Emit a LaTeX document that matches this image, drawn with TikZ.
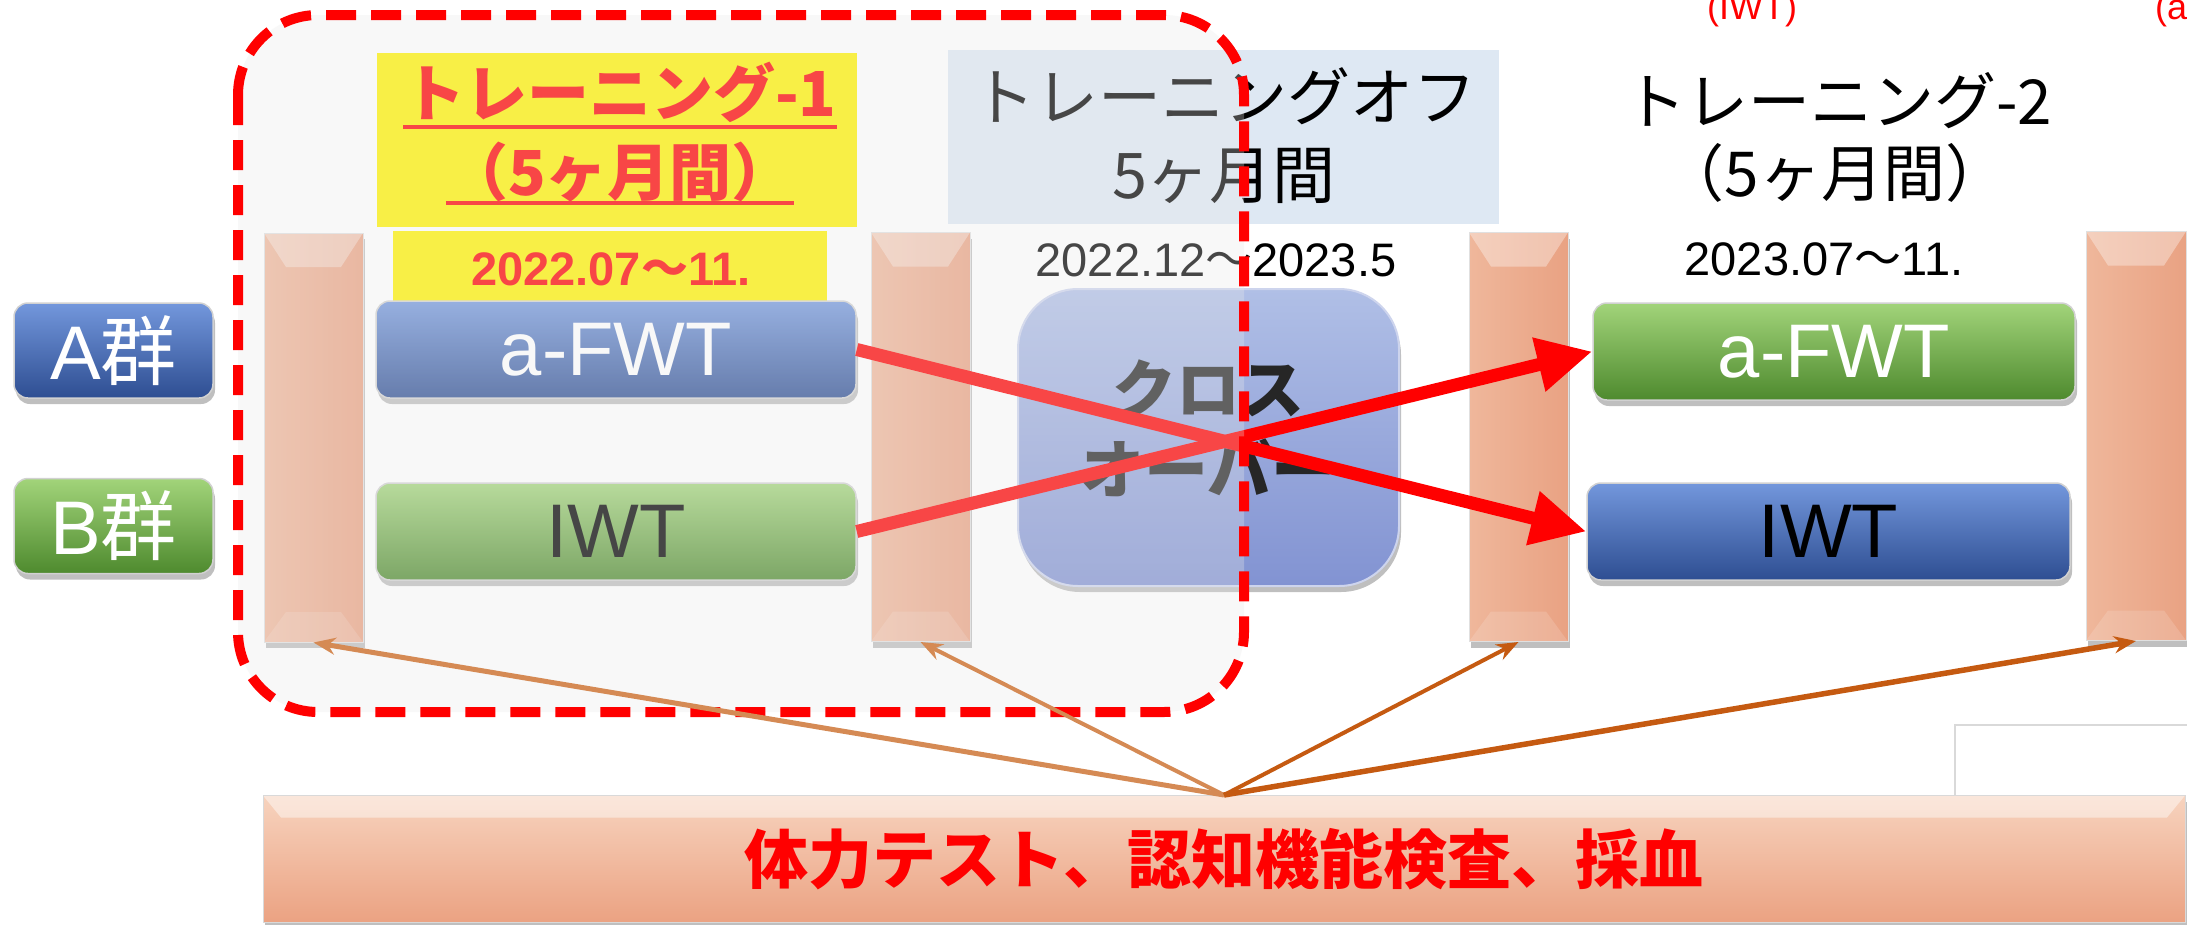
\documentclass[tikz,border=0pt]{standalone}
\usepackage{fontspec}
\setmainfont{Liberation Sans}
\newfontfamily\jp{Noto Sans CJK JP}
\usetikzlibrary{arrows.meta,shadows}
\definecolor{btnBlueT}{HTML}{7397DC}
\definecolor{btnBlueB}{HTML}{2E4E92}
\definecolor{btnGreenT}{HTML}{A2D47A}
\definecolor{btnGreenB}{HTML}{4E8A2E}
\definecolor{barL}{HTML}{EFB79B}
\definecolor{barR}{HTML}{E9A283}
\definecolor{xoverT}{HTML}{B0BFE6}
\definecolor{xoverB}{HTML}{8293D2}
\definecolor{offblue}{HTML}{DEE8F3}
\definecolor{orgD}{HTML}{C55A11}
\definecolor{orgL}{HTML}{D58A54}
\definecolor{bbT}{HTML}{F7D3BE}
\definecolor{bbB}{HTML}{EBA282}
\definecolor{overlaygray}{HTML}{EAEAEA}
\begin{document}
\begin{tikzpicture}[x=1pt,y=-1pt,
 shd/.style={drop shadow={shadow xshift=2pt,shadow yshift=-6pt,opacity=0.25,fill=black}},
 btn/.style={shd, rounded corners=14pt, draw=black!18, line width=1.5pt, inner sep=0pt,
   minimum width=480pt, minimum height=97pt, font=\fontsize{76}{80}\selectfont},
 bluebtn/.style={btn, top color=btnBlueT, bottom color=btnBlueB},
 greenbtn/.style={btn, top color=btnGreenT, bottom color=btnGreenB},
 grpbtn/.style={minimum width=199pt, minimum height=95pt},
 bevel/.style={path picture={
   \fill[white,opacity=0.35] (path picture bounding box.north west) -- (path picture bounding box.north east)
     -- ([xshift=-22pt,yshift=-34pt]path picture bounding box.north east)
     -- ([xshift=22pt,yshift=-34pt]path picture bounding box.north west) -- cycle;
   \fill[white,opacity=0.15] (path picture bounding box.south west) -- (path picture bounding box.south east)
     -- ([xshift=-22pt,yshift=30pt]path picture bounding box.south east)
     -- ([xshift=22pt,yshift=30pt]path picture bounding box.south west) -- cycle;}},
 bevelbb/.style={path picture={
   \fill[white,opacity=0.45] (path picture bounding box.north west) -- (path picture bounding box.north east)
     -- ([xshift=-18pt,yshift=-22pt]path picture bounding box.north east)
     -- ([xshift=18pt,yshift=-22pt]path picture bounding box.north west) -- cycle;}},
 barbox/.style={shd, bevel, draw=black!12, line width=1pt, left color=barL, right color=barR,
   minimum width=99pt, minimum height=409pt, inner sep=0pt},
 datetxt/.style={font=\fontsize{47}{50}\selectfont, anchor=base, inner sep=0pt},
 ttl/.style={font=\jp\fontsize{62}{70}\selectfont, inner sep=0pt},
 ttlb/.style={font=\jp\bfseries\fontsize{62}{70}\selectfont, text=red, inner sep=0pt},
 redarrow/.style={draw=red, line width=13pt, -{Triangle[length=55pt,width=52pt]}},
 orgarrow/.style={-{Stealth[length=22pt,width=17pt]}}
]
\clip (0,0) rectangle (2187,924);
\fill[white] (0,0) rectangle (2187,924);

% thin gray frame at bottom right
\draw[black!15, line width=2pt] (1955,800) -- (1955,725) -- (2190,725);

% vertical bars
\node[barbox] (b1) at (313.5,437.5) {};
\node[barbox] (b2) at (920.5,437) {};
\node[barbox] (b3) at (1518.5,437) {};
\node[barbox, minimum width=100pt] (b4) at (2136,436) {};

% title boxes
\node[fill=yellow, minimum width=480pt, minimum height=174pt, inner sep=0pt] (yel1) at (617,139.5) {};
\node[fill=yellow, minimum width=434pt, minimum height=75pt, inner sep=0pt] (yel2) at (610,268) {};
\node[fill=offblue, minimum width=551pt, minimum height=174pt, inner sep=0pt] (offbox) at (1223.5,137) {};

\node[ttlb] (t1a) at (620,92) {トレーニング-1};
\node[ttlb] (t1b) at (620,172) {（5ヶ月間）};
\draw[red, line width=4pt] (t1a.west |- 0,127) -- (t1a.east |- 0,127);
\draw[red, line width=4pt] (t1b.west |- 0,203) -- (t1b.east |- 0,203);
\node[datetxt, font=\bfseries\fontsize{47}{50}\selectfont, text=red] (d1) at (611,285) {2022.07{\jp\bfseries 〜}11.};

\node[ttl, font=\jp\fontsize{63}{70}\selectfont] (offa) at (1224,96) {トレーニングオフ};
\node[ttl, font=\jp\fontsize{63}{70}\selectfont] (offb) at (1224,176) {5ヶ月間};
\node[datetxt] (d2) at (1216,276) {2022.12{\jp 〜}2023.5};

\node[ttl] (t2a) at (1838,101) {トレーニング-2};
\node[ttl] (t2b) at (1835,173) {（5ヶ月間）};
\node[datetxt] (d3) at (1824,275) {2023.07{\jp 〜}11.};

% group buttons
\node[bluebtn, grpbtn, text=white] (ga) at (113.5,350.5) {A{\jp 群}};
\node[greenbtn, grpbtn, text=white] (gb) at (113.5,526) {B{\jp 群}};

% training buttons
\node[bluebtn, text=white] (afwt1) at (616,349.5) {a-FWT};
\node[greenbtn, text=black] (iwt1) at (616,531.5) {IWT};
\node[greenbtn, text=white, minimum width=482pt] (afwt2) at (1834,351.5) {a-FWT};
\node[bluebtn, text=black, minimum width=483pt] (iwt2) at (1828.5,531.5) {IWT};

% crossover
\node[shd, rounded corners=60pt, draw=white!60!xoverB, line width=2pt, top color=xoverT, bottom color=xoverB,
  minimum width=381pt, minimum height=297pt, inner sep=0pt] (xover) at (1208.5,437.5) {};
\node[align=center, inner sep=0pt, font=\jp\bfseries\fontsize{64}{80}\selectfont, text=black!85]
  (xtxt) at (1208,428) {クロス\\オーバー};

% crossing arrows
\draw[redarrow] (afwt1.east) -- (iwt2.west);
\draw[redarrow] (iwt1.east) -- (afwt2.west);

% highlighted region
\fill[overlaygray, fill opacity=0.3, rounded corners=80pt] (238,15) rectangle (1244,712);
\draw[red, line width=10pt, dash pattern=on 30pt off 15pt, rounded corners=80pt] (238,15) rectangle (1244,712);

% bottom bar
\node[shd, bevelbb, draw=black!15, line width=1pt, top color=bbT, bottom color=bbB,
  minimum width=1922pt, minimum height=127pt, inner sep=0pt,
  font=\jp\bfseries\fontsize{64}{70}\selectfont, text=red] (bb) at (1224,859) {体力テスト、認知機能検査、採血};

% measurement arrows
\draw[orgarrow, draw=orgL, line width=5pt] (bb.north) -- (b1.south);
\draw[orgarrow, draw=orgL, line width=4pt] (bb.north) -- (b2.south);
\draw[orgarrow, draw=orgD, line width=4pt] (bb.north) -- (b3.south);
\draw[orgarrow, draw=orgD, line width=5.5pt] (bb.north) -- (b4.south);

% partial labels at top edge (cut by the picture edge, as in the original)
\node[anchor=base west, text=red, font=\fontsize{36}{40}\selectfont, inner sep=0pt] (topiwt) at (1707,19) {(IWT)};
\node[anchor=base west, text=red, font=\fontsize{36}{40}\selectfont, inner sep=0pt] (topafwt) at (2155,19) {(a-FWT)};
\end{tikzpicture}
\end{document}
